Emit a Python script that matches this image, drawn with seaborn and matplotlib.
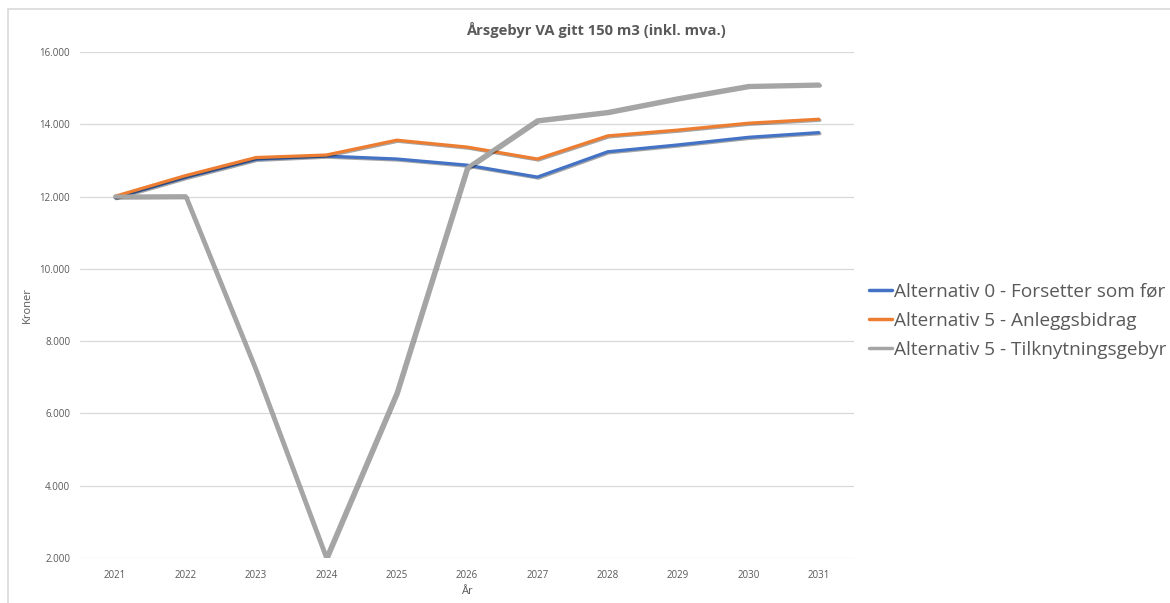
import numpy as np
import pandas as pd
import matplotlib
matplotlib.use("Agg")
import matplotlib.pyplot as plt
import matplotlib.patheffects as pe
from matplotlib.patches import Rectangle
import seaborn as sns

# data
years = ["2021", "2022", "2023", "2024", "2025", "2026", "2027", "2028", "2029", "2030", "2031"]
alt0 = [11970, 12530, 13030, 13120, 13040, 12870, 12540, 13240, 13430, 13640, 13770]
alt5_anlegg = [12010, 12580, 13080, 13150, 13560, 13370, 13040, 13680, 13840, 14030, 14140]
alt5_tilknyt = [12000, 12010, 7200, 2000, 6570, 12790, 14110, 14340, 14720, 15060, 15100]

names = ["Alternativ 0 - Forsetter som før",
         "Alternativ 5 - Anleggsbidrag",
         "Alternativ 5 - Tilknytningsgebyr"]
colors = ["#4472C4", "#ED7D31", "#A5A5A5"]
yticks = [2000, 4000, 6000, 8000, 10000, 12000, 14000, 16000]

df = pd.DataFrame({"År": years, names[0]: alt0, names[1]: alt5_anlegg, names[2]: alt5_tilknyt})
long = df.melt(id_vars="År", var_name="serie", value_name="Kroner")

sns.set_style("white")
plt.rcParams['font.family'] = ['Open Sans', 'DejaVu Sans']
txt = "#595959"

fig = plt.figure(figsize=(11.7, 6.03), dpi=100)
ax = fig.add_axes([80/1170, 1 - 558/603, (854 - 80)/1170, (558 - 52)/603])

sns.lineplot(data=long, x="År", y="Kroner", hue="serie", palette=colors,
             hue_order=names, ax=ax, sort=False)
widths = [2.3, 2.3, 3.0]
for line, w in zip(ax.get_lines(), widths):
    line.set_linewidth(w)
    line.set_solid_capstyle("round")
    line.set_path_effects([pe.SimpleLineShadow(offset=(0.8, -0.8), shadow_color="k", alpha=0.35),
                           pe.Normal()])

ax.set_xlim(-0.5, len(years) - 0.5)
ax.set_ylim(2000, 16000)
ax.set_yticks(yticks)
ax.set_yticklabels([f"{v:,}".replace(",", ".") for v in yticks])
ax.grid(axis="y", color="#D9D9D9", linewidth=0.9)
ax.set_axisbelow(True)
for s in ax.spines.values():
    s.set_visible(False)
ax.tick_params(axis="both", length=0, labelsize=7, labelcolor=txt)
ax.tick_params(axis="y", pad=7)
ax.tick_params(axis="x", pad=9)
ax.set_xlabel("År", fontsize=8, color=txt, labelpad=3)
ax.set_ylabel("Kroner", fontsize=8, color=txt)
ax.yaxis.set_label_coords((33 - 80) / 774, 0.5)

leg = ax.legend(loc="center left", bbox_to_anchor=(869/1170, 1 - 321/603),
                bbox_transform=fig.transFigure, frameon=False, borderpad=0, borderaxespad=0,
                fontsize=13.7, handlelength=1.2, handletextpad=0.1, labelspacing=0.58)
for t in leg.get_texts():
    t.set_color(txt)
for h in leg.get_lines():
    h.set_linewidth(2.5)
    h.set_path_effects([])

fig.text(596/1170, 1 - 30/603, "Årsgebyr VA gitt 150 m3 (inkl. mva.)", ha="center", va="center",
         fontsize=10.6, fontweight="bold", color=txt)

# chart border
fig.patches.append(Rectangle((8/1170, -0.05), 1.1, 1.05 - 9/603, transform=fig.transFigure,
                             fill=False, edgecolor="#D9D9D9", linewidth=1.2))

fig.savefig("out.png", dpi=100)
